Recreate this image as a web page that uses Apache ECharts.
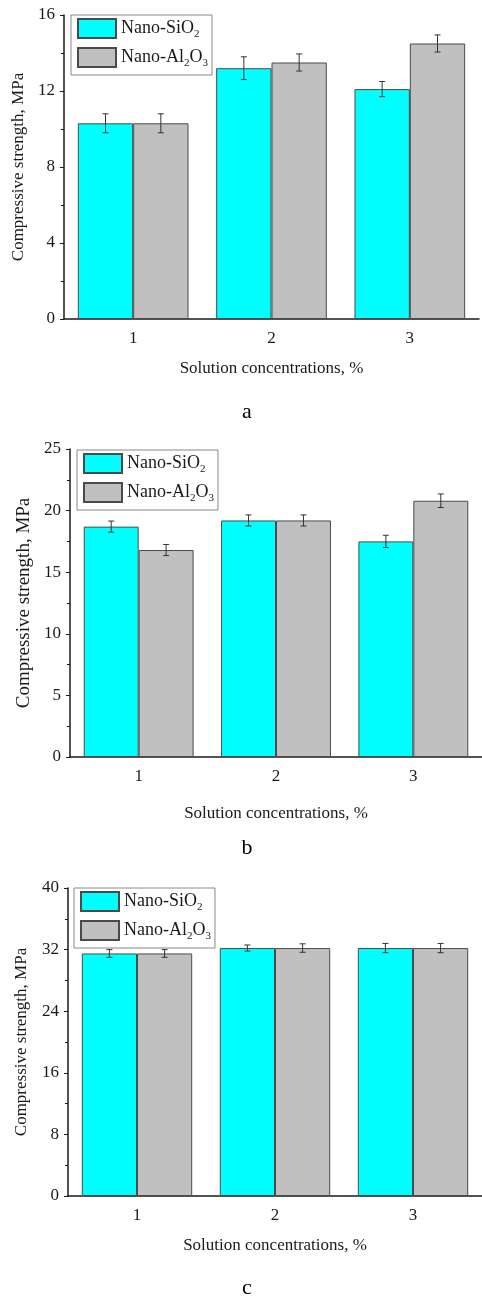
<!DOCTYPE html>
<html>
<head>
<meta charset="utf-8">
<script src="https://cdn.jsdelivr.net/npm/echarts@6/dist/echarts.min.js"></script>
<style>
  html, body { margin: 0; padding: 0; background: #fff; }
  #chart { width: 482px; height: 1297px; }
</style>
</head>
<body>
<div id="chart"></div>
<script>
// concentrations on the x axis
var categories = ['1', '2', '3']
var seriesNames = ['Nano-SiO2', 'Nano-Al2O3']

// panel a
var siA = [10.3, 13.2, 12.1]
var alA = [10.3, 13.5, 14.5]
var siErrA = [0.5, 0.6, 0.4]
var alErrA = [0.5, 0.45, 0.45]

// panel b
var siB = [18.7, 19.2, 17.5]
var alB = [16.8, 19.2, 20.8]
var siErrB = [0.45, 0.45, 0.5]
var alErrB = [0.45, 0.45, 0.55]

// panel c
var siC = [31.5, 32.2, 32.2]
var alC = [31.5, 32.2, 32.2]
var siErrC = [0.5, 0.4, 0.6]
var alErrC = [0.5, 0.55, 0.6]

// y axis ranges
var yMax = [16, 25, 40]
var yStep = [4, 5, 8]
var captions = ['a', 'b', 'c']

var FONT = '"Liberation Serif", "Times New Roman", serif'
var INK = '#1a1a1a'

var panels = [
  { si: siA, al: alA, siErr: siErrA, alErr: alErrA, grid: { left: 64, top: 15, width: 415, height: 304 }, legend: { left: 71, top: 15 }, xGap: 41, yGap: 36, cap: 412 },
  { si: siB, al: alB, siErr: siErrB, alErr: alErrB, grid: { left: 70, top: 449, width: 414, height: 308 }, legend: { left: 77, top: 450 }, xGap: 48, yGap: 36, cap: 848 },
  { si: siC, al: alC, siErr: siErrC, alErr: alErrC, grid: { left: 68, top: 888, width: 414, height: 308 }, legend: { left: 74, top: 888 }, xGap: 41, yGap: 38, cap: 1288 }
]

// error bar drawn with the axes' own coordinates
function errorBar(shift) {
  return function (params, api) {
    var x = api.value(0)
    var v = api.value(1)
    var e = api.value(2)
    var bw = api.size([1, 0])[0]
    var hi = api.coord([x, v + e])
    var lo = api.coord([x, v - e])
    var cx = hi[0] + shift * bw
    var style = { stroke: '#333', lineWidth: 1 }
    return {
      type: 'group',
      children: [
        { type: 'line', shape: { x1: cx, y1: hi[1], x2: cx, y2: lo[1] }, style: style },
        { type: 'line', shape: { x1: cx - 3, y1: hi[1], x2: cx + 3, y2: hi[1] }, style: style },
        { type: 'line', shape: { x1: cx - 3, y1: lo[1], x2: cx + 3, y2: lo[1] }, style: style }
      ]
    }
  }
}

function errData(vals, errs) {
  return vals.map(function (v, i) { return [i, v, errs[i]] })
}

var option = {
  backgroundColor: '#fff',
  animation: false,
  grid: [],
  xAxis: [],
  yAxis: [],
  legend: [],
  series: [],
  graphic: []
}

panels.forEach(function (p, k) {
  option.grid.push(p.grid)
  // main category axis: ticks under the labels
  option.xAxis.push({
    type: 'category',
    gridIndex: k,
    data: categories,
    name: 'Solution concentrations, %',
    nameLocation: 'middle',
    nameGap: p.xGap,
    nameTextStyle: { fontFamily: FONT, fontSize: 17, color: INK },
    axisLine: { lineStyle: { color: INK, width: 1.5 } },
    axisTick: { alignWithLabel: true, length: 4, lineStyle: { color: INK } },
    axisLabel: { fontFamily: FONT, fontSize: 17, color: INK, margin: 11 }
  })
  // second axis just for the small ticks between groups
  option.xAxis.push({
    type: 'category',
    gridIndex: k,
    data: categories,
    position: 'bottom',
    axisLine: { show: false },
    axisTick: { length: 3, lineStyle: { color: INK } },
    axisLabel: { show: false }
  })
  option.yAxis.push({
    type: 'value',
    gridIndex: k,
    min: 0,
    max: yMax[k],
    interval: yStep[k],
    name: 'Compressive strength, MPa',
    nameLocation: 'middle',
    nameRotate: 90,
    nameGap: p.yGap,
    nameTextStyle: { fontFamily: FONT, fontSize: k === 1 ? 19 : 17, color: INK },
    splitLine: { show: false },
    axisLine: { show: true, lineStyle: { color: INK, width: 1.5 } },
    axisTick: { show: true, length: 4, lineStyle: { color: INK } },
    minorTick: { show: true, splitNumber: 2, length: 3, lineStyle: { color: INK } },
    axisLabel: { fontFamily: FONT, fontSize: 17, color: INK, margin: 9 }
  })
  option.legend.push({
    data: seriesNames,
    orient: 'vertical',
    left: p.legend.left,
    top: p.legend.top,
    padding: [3, 4, 6, 6],
    itemGap: 7,
    itemWidth: 38,
    itemHeight: 19,
    icon: 'rect',
    borderColor: '#888',
    borderWidth: 1,
    selectedMode: false,
    formatter: function (name) {
      return name === 'Nano-SiO2' ? 'Nano-SiO{s|2}' : 'Nano-Al{s|2}O{s|3}'
    },
    textStyle: {
      fontFamily: FONT,
      fontSize: 18,
      color: INK,
      rich: {
        s: { fontFamily: FONT, fontSize: 11, color: INK, padding: [12, 0, 0, 0] }
      }
    }
  })
  var xi = k * 2
  option.series.push({
    name: seriesNames[0],
    type: 'bar',
    xAxisIndex: xi,
    yAxisIndex: k,
    data: p.si,
    barGap: '0%',
    barCategoryGap: '20%',
    itemStyle: { color: '#00ffff', borderColor: '#4a4a4a', borderWidth: 1 }
  })
  option.series.push({
    name: seriesNames[1],
    type: 'bar',
    xAxisIndex: xi,
    yAxisIndex: k,
    data: p.al,
    barGap: '0%',
    barCategoryGap: '20%',
    itemStyle: { color: '#c0c0c0', borderColor: '#4a4a4a', borderWidth: 1 }
  })
  option.series.push({
    type: 'custom',
    xAxisIndex: xi,
    yAxisIndex: k,
    z: 5,
    data: errData(p.si, p.siErr),
    encode: { x: 0, y: 1 },
    renderItem: errorBar(-0.2)
  })
  option.series.push({
    type: 'custom',
    xAxisIndex: xi,
    yAxisIndex: k,
    z: 5,
    data: errData(p.al, p.alErr),
    encode: { x: 0, y: 1 },
    renderItem: errorBar(0.2)
  })
  option.graphic.push({
    type: 'text',
    x: 247,
    y: p.cap,
    style: { text: captions[k], font: '22px ' + FONT, fill: '#000', align: 'center', verticalAlign: 'middle' }
  })
})

var chart = echarts.init(document.getElementById('chart'))
chart.setOption(option)
</script>
</body>
</html>
